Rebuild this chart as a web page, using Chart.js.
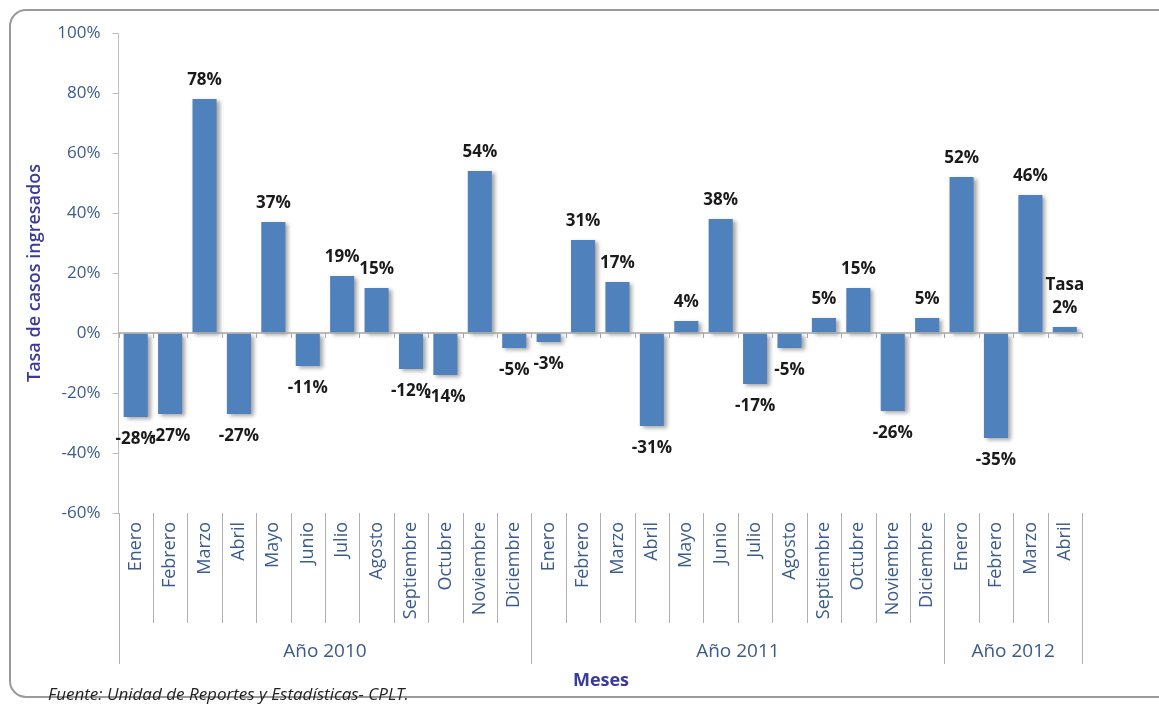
<!DOCTYPE html>
<html>
<head>
<meta charset="utf-8">
<script src="https://cdn.jsdelivr.net/npm/chart.js@4/dist/chart.umd.min.js"></script>
<style>
  body { margin: 0; background: #fff; }
  canvas { display: block; }
</style>
</head>
<body>
<canvas id="tasaChart" width="1159" height="704"></canvas>
<script>
// meses (categorias) y su año
const months = ['Enero', 'Febrero', 'Marzo', 'Abril', 'Mayo', 'Junio', 'Julio', 'Agosto', 'Septiembre', 'Octubre', 'Noviembre', 'Diciembre',
  'Enero', 'Febrero', 'Marzo', 'Abril', 'Mayo', 'Junio', 'Julio', 'Agosto', 'Septiembre', 'Octubre', 'Noviembre', 'Diciembre',
  'Enero', 'Febrero', 'Marzo', 'Abril'];
const years = ['Año 2010', 'Año 2011', 'Año 2012'];
const monthsPerYear = [12, 12, 4];

// tasa de casos ingresados (%)
const tasa = [-28, -27, 78, -27, 37, -11, 19, 15, -12, -14, 54, -5,
  -3, 31, 17, -31, 4, 38, -17, -5, 5, 15, -26, 5,
  52, -35, 46, 2];

const yTicks = [-60, -40, -20, 0, 20, 40, 60, 80, 100];
const lastLabelTitle = 'Tasa';
const fuente = 'Fuente: Unidad de Reportes y Estadísticas- CPLT.';

const FONT = '"Open Sans", "Noto Sans", sans-serif';
const blueText = '#3b5b8c';
const lineGray = '#a6a6a6';

const extras = {
  id: 'extras',
  beforeDraw(chart) {
    const ctx = chart.ctx;
    ctx.save();
    ctx.fillStyle = '#fff';
    ctx.fillRect(0, 0, chart.width, chart.height);
    // marco redondeado
    ctx.strokeStyle = '#9a9a9a';
    ctx.lineWidth = 2;
    ctx.beginPath();
    ctx.roundRect(10, 10, chart.width + 20, 687, 16);
    ctx.stroke();
    ctx.restore();
  },
  beforeDatasetsDraw(chart) {
    const ctx = chart.ctx;
    ctx.save();
    ctx.shadowColor = 'rgba(0,0,0,0.35)';
    ctx.shadowBlur = 4;
    ctx.shadowOffsetX = 3;
    ctx.shadowOffsetY = 2;
  },
  afterDatasetsDraw(chart) {
    const ctx = chart.ctx;
    ctx.restore();
    const x = chart.scales.x;
    const y = chart.scales.y;
    const area = chart.chartArea;
    const y0 = y.getPixelForValue(0);
    const half = (x.getPixelForValue(1) - x.getPixelForValue(0)) / 2;

    ctx.save();
    // linea del cero con marcas
    ctx.strokeStyle = lineGray;
    ctx.lineWidth = 1.5;
    ctx.beginPath();
    ctx.moveTo(area.left, y0);
    ctx.lineTo(area.right, y0);
    ctx.stroke();
    ctx.lineWidth = 1;
    ctx.beginPath();
    for (let i = 0; i <= months.length; i++) {
      const bx = Math.round(x.getPixelForValue(i) - half) + 0.5;
      ctx.moveTo(bx, y0);
      ctx.lineTo(bx, y0 + 5);
    }
    ctx.stroke();

    // separadores bajo el grafico
    const groupEdges = [0];
    monthsPerYear.forEach(n => groupEdges.push(groupEdges[groupEdges.length - 1] + n));
    ctx.strokeStyle = '#b0b0b0';
    ctx.beginPath();
    for (let i = 0; i <= months.length; i++) {
      const bx = Math.round(x.getPixelForValue(i) - half) + 0.5;
      const isGroup = groupEdges.includes(i);
      ctx.moveTo(bx, area.bottom);
      ctx.lineTo(bx, isGroup ? 664 : 623);
    }
    ctx.stroke();

    // etiquetas de meses (verticales)
    ctx.fillStyle = blueText;
    ctx.font = '18px ' + FONT;
    ctx.textAlign = 'right';
    ctx.textBaseline = 'middle';
    months.forEach((m, i) => {
      ctx.save();
      ctx.translate(x.getPixelForValue(i), 522);
      ctx.rotate(-Math.PI / 2);
      ctx.fillText(m, 0, 0);
      ctx.restore();
    });

    // años
    ctx.textAlign = 'center';
    ctx.font = '19px ' + FONT;
    years.forEach((yr, g) => {
      const a = x.getPixelForValue(groupEdges[g]) - half;
      const b = x.getPixelForValue(groupEdges[g + 1]) - half;
      ctx.fillText(yr, (a + b) / 2, 652);
    });

    // valores sobre las barras
    ctx.fillStyle = '#1a1a1a';
    ctx.font = 'bold 17px ' + FONT;
    const meta = chart.getDatasetMeta(0);
    meta.data.forEach((bar, i) => {
      const v = tasa[i];
      const ly = v >= 0 ? bar.y - 19 : bar.y + 22;
      ctx.fillText(v + '%', bar.x, ly);
      if (i === tasa.length - 1) ctx.fillText(lastLabelTitle, bar.x, ly - 23);
    });

    // titulo eje x
    ctx.fillStyle = '#3a3a9e';
    ctx.font = 'bold 18px ' + FONT;
    ctx.fillText('Meses', 601, 681);

    // fuente
    ctx.fillStyle = '#222';
    ctx.font = 'italic 17px ' + FONT;
    ctx.textAlign = 'left';
    ctx.fillText(fuente, 48, 695);
    ctx.restore();
  }
};

const ctx = document.getElementById('tasaChart').getContext('2d');
new Chart(ctx, {
  type: 'bar',
  data: {
    labels: months,
    datasets: [{
      label: 'Tasa',
      data: tasa,
      backgroundColor: '#4f81bd',
      borderWidth: 0,
      barPercentage: 0.7,
      categoryPercentage: 1.0
    }]
  },
  options: {
    responsive: false,
    animation: false,
    events: [],
    layout: { padding: { left: 10, top: 33, right: 77, bottom: 0 } },
    plugins: {
      legend: { display: false },
      tooltip: { enabled: false }
    },
    scales: {
      x: {
        offset: true,
        ticks: { display: false },
        grid: { display: false },
        border: { display: false },
        afterFit(scale) { scale.height = 191; }
      },
      y: {
        min: -60,
        max: 100,
        afterBuildTicks(scale) { scale.ticks = yTicks.map(v => ({ value: v })); },
        afterFit(scale) { scale.width = 108.5; },
        ticks: {
          color: blueText,
          font: { family: FONT, size: 17 },
          padding: 12,
          callback: v => v + '%'
        },
        grid: { drawOnChartArea: false, drawTicks: true, tickLength: 6, color: '#bfbfbf' },
        border: { display: true, color: '#bfbfbf' },
        title: {
          display: true,
          text: 'Tasa de casos ingresados',
          color: '#3a3a9e',
          font: { family: FONT, size: 18, weight: '600' },
          padding: { top: 14, bottom: 0 }
        }
      }
    }
  },
  plugins: [extras]
});
</script>
</body>
</html>
